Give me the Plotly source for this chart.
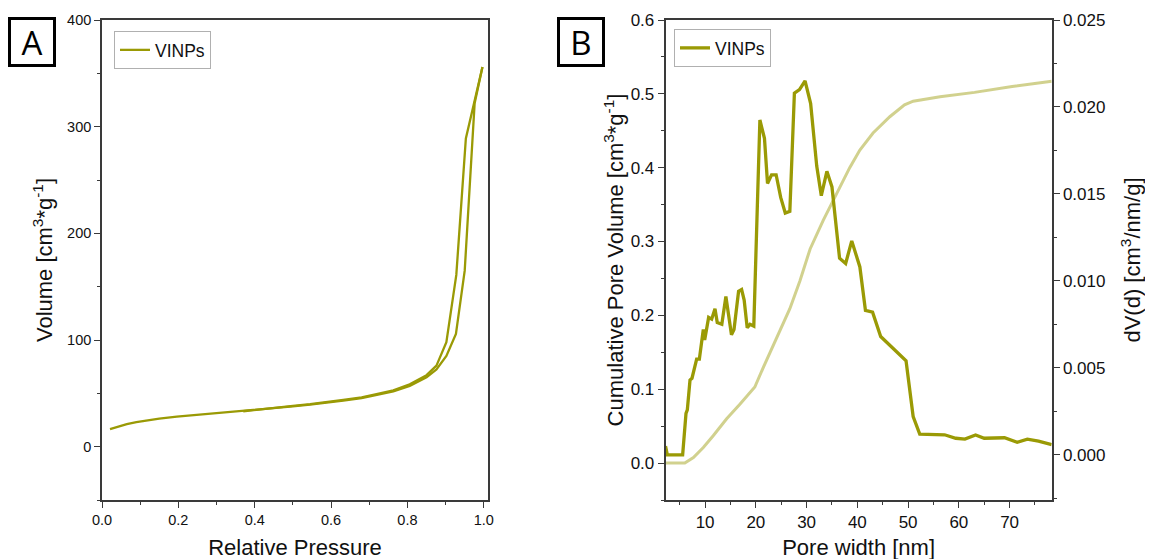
import plotly.graph_objects as go

W, H = 1153, 559
OFF = 8  # page body margin of the browser

# ---------------- Panel A: N2 isotherm ----------------
ads_p = [0.021, 0.045, 0.065, 0.09, 0.117, 0.15, 0.196, 0.24, 0.283, 0.33, 0.37, 0.41,
         0.457, 0.50, 0.545, 0.59, 0.632, 0.68, 0.719, 0.763, 0.806, 0.85, 0.876,
         0.902, 0.927, 0.950, 0.976, 0.9965]
ads_v = [16.4, 19.3, 21.1, 23.0, 24.7, 26.3, 28.1, 29.5, 30.6, 31.9, 33.1, 34.5,
         36.3, 37.8, 39.4, 41.2, 43.2, 45.6, 48.4, 51.8, 57.0, 65.0, 72.5,
         85.0, 105.7, 165.0, 322.0, 356.0]
des_p = [0.9965, 0.976, 0.953, 0.928, 0.913, 0.902, 0.876, 0.85, 0.806, 0.763,
         0.719, 0.68, 0.632, 0.59, 0.545, 0.50, 0.457, 0.41, 0.37]
des_v = [356.0, 325.0, 289.0, 161.0, 122.0, 98.0, 76.0, 67.0, 58.5, 52.8,
         49.2, 46.3, 43.8, 41.7, 39.8, 38.2, 36.6, 34.7, 33.2]

# ---------------- Panel B: pore size distribution ----------------
dv_w = [2.2, 2.56, 5.58, 6.24, 6.5, 7.03, 7.42, 8.34, 8.87, 9.65, 9.92, 10.7, 11.3,
        11.95, 12.4, 13.3, 14.1, 15.2, 15.7, 16.6, 17.2, 17.7, 18.3, 18.85, 19.6,
        20.8, 21.7, 22.3, 23.1, 24.0, 24.9, 25.8, 26.7, 27.6, 28.6, 29.7, 30.8,
        32.0, 32.9, 34.0, 35.0, 35.9, 36.5, 37.7, 38.9, 40.5, 41.6, 43.0, 44.6,
        46.4, 48.1, 49.6, 51.0, 52.3, 57.2, 59.4, 61.2, 63.3, 65.0, 69.0, 71.5,
        73.5, 75.7, 78.3]
dv_val = [0.00050, 0.0, 0.0, 0.00238, 0.00258, 0.0043, 0.0044, 0.0055, 0.0055,
          0.0072, 0.0066, 0.0079, 0.0078, 0.0084, 0.0076, 0.0075, 0.0091, 0.0069,
          0.0072, 0.0094, 0.0095, 0.0089, 0.0073, 0.0075, 0.0074,
          0.01925, 0.0182, 0.0156, 0.0161, 0.0161, 0.0148, 0.0139, 0.0140,
          0.0208, 0.0210, 0.0215, 0.0202, 0.0166, 0.0149, 0.0163, 0.0154,
          0.0131, 0.0113, 0.0110, 0.0123, 0.0108, 0.0083, 0.0082, 0.0068,
          0.0063, 0.0058, 0.0054, 0.0022, 0.00119, 0.00115, 0.00095, 0.0009,
          0.00114, 0.00095, 0.00098, 0.00072, 0.0009, 0.00078, 0.00058]

cum_w = [2.2, 6.0, 7.7, 9.65, 11.6, 14.25, 16.9, 19.8, 21.5, 24.1, 26.7, 28.7, 30.7,
         33.3, 35.9, 38.5, 40.5, 43.1, 46.4, 49.3, 51.0, 56.3, 63.1, 70.5, 78.3]
cum_val = [0.0, 0.0, 0.0076, 0.021, 0.037, 0.060, 0.080, 0.103, 0.130, 0.170, 0.209,
           0.247, 0.290, 0.329, 0.365, 0.400, 0.424, 0.447, 0.469, 0.485, 0.490,
           0.496, 0.502, 0.510, 0.517]

OLIVE = "#9a9a05"
LIGHT = "rgba(154,154,5,0.45)"
AX = "#3a3a3a"
FONT = "Liberation Sans, Arial, sans-serif"

fig = go.Figure()
fig.add_trace(go.Scatter(x=ads_p, y=ads_v, mode="lines", name="VINPs",
                         line=dict(color=OLIVE, width=2.3), xaxis="x", yaxis="y",
                         legend="legend"))
fig.add_trace(go.Scatter(x=des_p, y=des_v, mode="lines", name="VINPs",
                         line=dict(color=OLIVE, width=2.3), xaxis="x", yaxis="y",
                         showlegend=False))
fig.add_trace(go.Scatter(x=cum_w, y=cum_val, mode="lines", name="cumulative",
                         line=dict(color=LIGHT, width=3), xaxis="x2", yaxis="y2",
                         showlegend=False))
fig.add_trace(go.Scatter(x=dv_w, y=dv_val, mode="lines", name="VINPs",
                         line=dict(color=OLIVE, width=3.3), xaxis="x2", yaxis="y3",
                         legend="legend2"))


def px_x(p):
    return (p - OFF) / W


def px_y(p):
    return 1 - (p - OFF) / H


def common(size):
    return dict(showline=True, linecolor=AX, linewidth=1.6, showgrid=False,
                zeroline=False, ticks="outside", ticklen=6, tickwidth=1.3,
                automargin=False,
                tickcolor=AX, tickfont=dict(family=FONT, size=size, color="#111"))


TFONT = dict(size=22, family=FONT, color="#111")

ax_dom = [px_x(102), px_x(488)]
bx_dom = [px_x(665.5), px_x(1051.7)]
y_dom = [px_y(500), px_y(20)]

fig.update_layout(
    template="none",
    width=W, height=H, autosize=False,
    margin=dict(l=0, r=0, t=0, b=0, pad=0, autoexpand=False),
    paper_bgcolor="white", plot_bgcolor="white",
    font=dict(family=FONT, color="#111"),
    xaxis=dict(domain=ax_dom, range=[0, 1.011], dtick=0.2, tick0=0, tickformat=".1f",
               mirror=True, anchor="y",
               minor=dict(dtick=0.1, ticks="outside", ticklen=3, tickcolor=AX),
               title=dict(text="Relative Pressure", font=TFONT, standoff=12),
               **common(14.5)),
    yaxis=dict(domain=y_dom, range=[-50, 400], dtick=100, tick0=0, mirror=True,
               anchor="x",
               minor=dict(dtick=50, ticks="outside", ticklen=3, tickcolor=AX),
               title=dict(text="Volume [cm<sup>3</sup>*g<sup>-1</sup>]",
                          font=TFONT, standoff=8), **common(14.5)),
    xaxis2=dict(domain=bx_dom, range=[2.2, 78.3], dtick=10, tick0=0, mirror=True,
                anchor="y2",
                minor=dict(dtick=5, ticks="outside", ticklen=3, tickcolor=AX),
                title=dict(text="Pore width [nm]", font=TFONT, standoff=8),
                **common(17)),
    yaxis2=dict(domain=y_dom, range=[-0.05, 0.6], dtick=0.1, tick0=0, tickformat=".1f",
                mirror=True, anchor="x2",
                minor=dict(dtick=0.05, ticks="outside", ticklen=3, tickcolor=AX),
                title=dict(text="Cumulative Pore Volume [cm<sup>3</sup>*g<sup>-1</sup>]",
                           font=TFONT, standoff=1), **common(17)),
    yaxis3=dict(range=[-0.0026, 0.025], dtick=0.005, tick0=0, tickformat=".3f",
                overlaying="y2", side="right", anchor="x2",
                minor=dict(dtick=0.0025, ticks="outside", ticklen=3, tickcolor=AX),
                title=dict(text="dV(d) [cm<sup>3</sup>/nm/g]", font=TFONT, standoff=20),
                **common(17)),
    legend=dict(x=px_x(114), y=px_y(31), xanchor="left", yanchor="top",
                bordercolor="#b0b0b0", borderwidth=1, bgcolor="white",
                font=dict(size=17.5, family=FONT), tracegroupgap=0,
                itemwidth=30),
    legend2=dict(x=px_x(674), y=px_y(29), xanchor="left", yanchor="top",
                 bordercolor="#b0b0b0", borderwidth=1, bgcolor="white",
                 font=dict(size=17.5, family=FONT), itemwidth=30),
    showlegend=True,
)

for label, xc in (("A", 31.5), ("B", 580.5)):
    fig.add_annotation(text=label, xref="paper", yref="paper", x=px_x(xc), y=px_y(42),
                       xanchor="center", yanchor="middle", showarrow=False,
                       font=dict(size=33, family="Open Sans, Liberation Sans", color="black"),
                       bordercolor="black", borderwidth=3, borderpad=1,
                       bgcolor="white", width=40, height=42)

fig.write_html("out.html")
